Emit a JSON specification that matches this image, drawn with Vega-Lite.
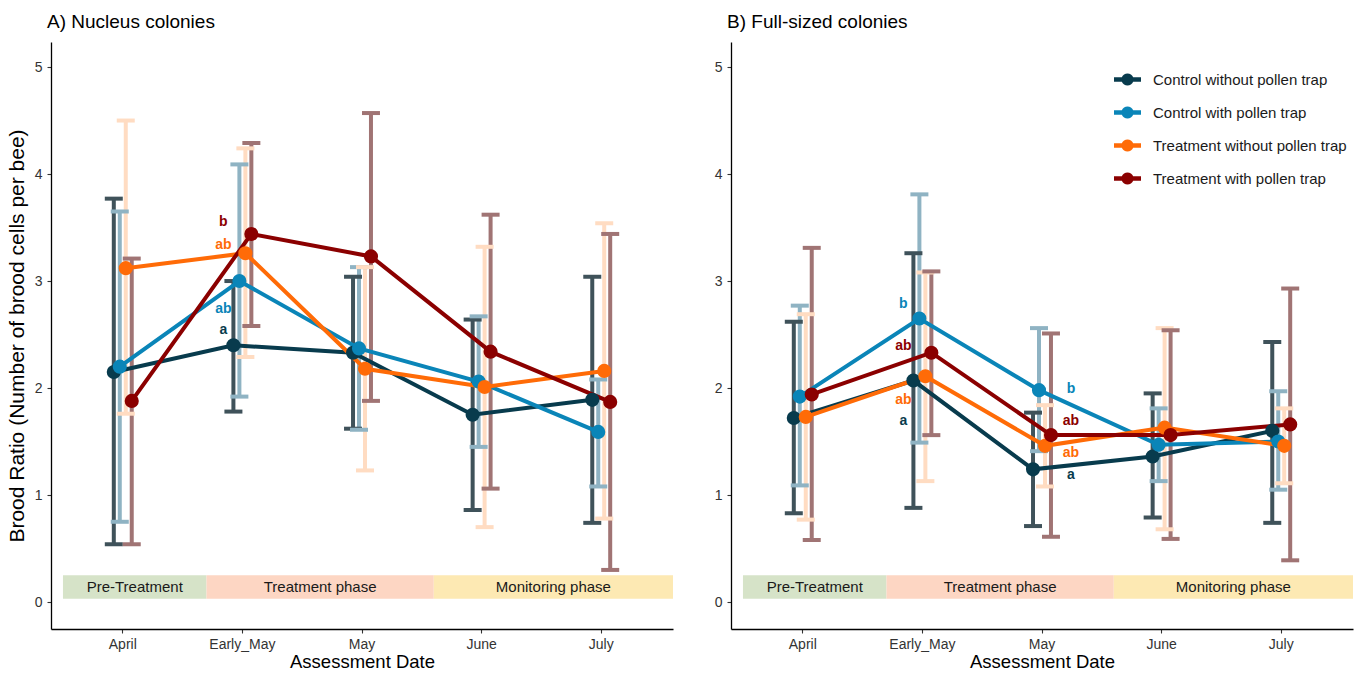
{
  "$schema": "https://vega.github.io/schema/vega-lite/v6.json",
  "background": "white",
  "padding": {"left": 6, "top": 13, "right": 4, "bottom": 0},
  "spacing": 41,
  "config": {
    "view": {"stroke": null},
    "font": "Liberation Sans",
    "axis": {"grid": false, "domainColor": "black", "domainWidth": 1.3, "tickColor": "#333333", "tickSize": 4, "tickWidth": 1.1, "labelFont": "Liberation Sans", "labelFontSize": 14, "labelColor": "#333333", "titleFont": "Liberation Sans", "titleFontSize": 18.5, "titleFontWeight": "normal", "titleColor": "black", "labelPadding": 5},
    "axisX": {"titlePadding": 1, "labelPadding": 4},
    "axisY": {"titlePadding": 7, "titleFontSize": 21},
    "title": {"font": "Liberation Sans", "fontSize": 19, "fontWeight": "normal", "color": "black", "anchor": "start", "frame": "group"}
  },
  "datasets": {
    "obs": [
      {"panel": "A", "date": "April", "group": "Control without pollen trap", "ratio": 2.15, "lower": 0.54, "upper": 3.77},
      {"panel": "A", "date": "April", "group": "Control with pollen trap", "ratio": 2.20, "lower": 0.75, "upper": 3.65},
      {"panel": "A", "date": "April", "group": "Treatment without pollen trap", "ratio": 3.12, "lower": 1.76, "upper": 4.50},
      {"panel": "A", "date": "April", "group": "Treatment with pollen trap", "ratio": 1.88, "lower": 0.54, "upper": 3.21},
      {"panel": "A", "date": "Early_May", "group": "Control without pollen trap", "ratio": 2.40, "lower": 1.78, "upper": 3.00},
      {"panel": "A", "date": "Early_May", "group": "Control with pollen trap", "ratio": 3.00, "lower": 1.92, "upper": 4.09},
      {"panel": "A", "date": "Early_May", "group": "Treatment without pollen trap", "ratio": 3.26, "lower": 2.29, "upper": 4.24},
      {"panel": "A", "date": "Early_May", "group": "Treatment with pollen trap", "ratio": 3.44, "lower": 2.58, "upper": 4.29},
      {"panel": "A", "date": "May", "group": "Control without pollen trap", "ratio": 2.33, "lower": 1.62, "upper": 3.04},
      {"panel": "A", "date": "May", "group": "Control with pollen trap", "ratio": 2.37, "lower": 1.61, "upper": 3.13},
      {"panel": "A", "date": "May", "group": "Treatment without pollen trap", "ratio": 2.18, "lower": 1.23, "upper": 3.13},
      {"panel": "A", "date": "May", "group": "Treatment with pollen trap", "ratio": 3.23, "lower": 1.88, "upper": 4.57},
      {"panel": "A", "date": "June", "group": "Control without pollen trap", "ratio": 1.75, "lower": 0.86, "upper": 2.64},
      {"panel": "A", "date": "June", "group": "Control with pollen trap", "ratio": 2.06, "lower": 1.45, "upper": 2.67},
      {"panel": "A", "date": "June", "group": "Treatment without pollen trap", "ratio": 2.01, "lower": 0.70, "upper": 3.32},
      {"panel": "A", "date": "June", "group": "Treatment with pollen trap", "ratio": 2.34, "lower": 1.06, "upper": 3.62},
      {"panel": "A", "date": "July", "group": "Control without pollen trap", "ratio": 1.89, "lower": 0.74, "upper": 3.04},
      {"panel": "A", "date": "July", "group": "Control with pollen trap", "ratio": 1.59, "lower": 1.08, "upper": 2.08},
      {"panel": "A", "date": "July", "group": "Treatment without pollen trap", "ratio": 2.16, "lower": 0.78, "upper": 3.54},
      {"panel": "A", "date": "July", "group": "Treatment with pollen trap", "ratio": 1.87, "lower": 0.30, "upper": 3.44},
      {"panel": "B", "date": "April", "group": "Control without pollen trap", "ratio": 1.72, "lower": 0.83, "upper": 2.62},
      {"panel": "B", "date": "April", "group": "Control with pollen trap", "ratio": 1.92, "lower": 1.09, "upper": 2.77},
      {"panel": "B", "date": "April", "group": "Treatment without pollen trap", "ratio": 1.73, "lower": 0.77, "upper": 2.69},
      {"panel": "B", "date": "April", "group": "Treatment with pollen trap", "ratio": 1.94, "lower": 0.58, "upper": 3.31},
      {"panel": "B", "date": "Early_May", "group": "Control without pollen trap", "ratio": 2.07, "lower": 0.88, "upper": 3.26},
      {"panel": "B", "date": "Early_May", "group": "Control with pollen trap", "ratio": 2.65, "lower": 1.49, "upper": 3.81},
      {"panel": "B", "date": "Early_May", "group": "Treatment without pollen trap", "ratio": 2.11, "lower": 1.13, "upper": 3.08},
      {"panel": "B", "date": "Early_May", "group": "Treatment with pollen trap", "ratio": 2.33, "lower": 1.56, "upper": 3.09},
      {"panel": "B", "date": "May", "group": "Control without pollen trap", "ratio": 1.24, "lower": 0.71, "upper": 1.77},
      {"panel": "B", "date": "May", "group": "Control with pollen trap", "ratio": 1.98, "lower": 1.41, "upper": 2.56},
      {"panel": "B", "date": "May", "group": "Treatment without pollen trap", "ratio": 1.46, "lower": 1.08, "upper": 1.84},
      {"panel": "B", "date": "May", "group": "Treatment with pollen trap", "ratio": 1.56, "lower": 0.61, "upper": 2.51},
      {"panel": "B", "date": "June", "group": "Control without pollen trap", "ratio": 1.36, "lower": 0.79, "upper": 1.95},
      {"panel": "B", "date": "June", "group": "Control with pollen trap", "ratio": 1.47, "lower": 1.13, "upper": 1.81},
      {"panel": "B", "date": "June", "group": "Treatment without pollen trap", "ratio": 1.63, "lower": 0.68, "upper": 2.56},
      {"panel": "B", "date": "June", "group": "Treatment with pollen trap", "ratio": 1.56, "lower": 0.59, "upper": 2.54},
      {"panel": "B", "date": "July", "group": "Control without pollen trap", "ratio": 1.60, "lower": 0.74, "upper": 2.43},
      {"panel": "B", "date": "July", "group": "Control with pollen trap", "ratio": 1.50, "lower": 1.05, "upper": 1.97},
      {"panel": "B", "date": "July", "group": "Treatment without pollen trap", "ratio": 1.46, "lower": 1.11, "upper": 1.81},
      {"panel": "B", "date": "July", "group": "Treatment with pollen trap", "ratio": 1.66, "lower": 0.39, "upper": 2.93}
    ],
    "phases": [
      {"phase": "Pre-Treatment", "start": 0.5, "end": 1.7},
      {"phase": "Treatment phase", "start": 1.7, "end": 3.6},
      {"phase": "Monitoring phase", "start": 3.6, "end": 5.6}
    ],
    "letters": [
      {"panel": "A", "date": "Early_May", "group": "Treatment with pollen trap", "letter": "b", "ypos": 3.55},
      {"panel": "A", "date": "Early_May", "group": "Treatment without pollen trap", "letter": "ab", "ypos": 3.34},
      {"panel": "A", "date": "Early_May", "group": "Control with pollen trap", "letter": "ab", "ypos": 2.74},
      {"panel": "A", "date": "Early_May", "group": "Control without pollen trap", "letter": "a", "ypos": 2.54},
      {"panel": "B", "date": "Early_May", "group": "Control with pollen trap", "letter": "b", "ypos": 2.79},
      {"panel": "B", "date": "Early_May", "group": "Treatment with pollen trap", "letter": "ab", "ypos": 2.39},
      {"panel": "B", "date": "Early_May", "group": "Treatment without pollen trap", "letter": "ab", "ypos": 1.89},
      {"panel": "B", "date": "Early_May", "group": "Control without pollen trap", "letter": "a", "ypos": 1.69},
      {"panel": "B", "date": "May", "group": "Control with pollen trap", "letter": "b", "ypos": 1.99},
      {"panel": "B", "date": "May", "group": "Treatment with pollen trap", "letter": "ab", "ypos": 1.69},
      {"panel": "B", "date": "May", "group": "Treatment without pollen trap", "letter": "ab", "ypos": 1.39},
      {"panel": "B", "date": "May", "group": "Control without pollen trap", "letter": "a", "ypos": 1.19}
    ]
  },
  "hconcat": [
    {
      "title": {"text": "A) Nucleus colonies", "dx": -4, "offset": 10},
      "width": 622,
      "height": 587,
      "resolve": {"scale": {"x": "independent", "color": "independent"}},
      "layer": [
        {
          "data": {"name": "phases"},
          "layer": [
            {
              "mark": {"type": "rect"},
              "encoding": {
                "x": {"field": "start", "type": "quantitative", "scale": {"domain": [0.4, 5.6], "nice": false, "zero": false}, "axis": null},
                "x2": {"field": "end"},
                "y": {"datum": 0.03, "type": "quantitative", "scale": {"domain": [-0.252, 5.234], "nice": false, "zero": false}, "axis": {"values": [0, 1, 2, 3, 4, 5], "format": "d", "title": "Brood Ratio (Number of brood cells per bee)"}},
                "y2": {"datum": 0.25},
                "color": {"field": "phase", "type": "nominal", "scale": {"domain": ["Pre-Treatment", "Treatment phase", "Monitoring phase"], "range": ["#d6e3c8", "#fdd6c3", "#fde9b3"]}, "legend": null}
              }
            },
            {
              "transform": [{"calculate": "(datum.start + datum.end) / 2", "as": "mid"}],
              "mark": {"type": "text", "fontSize": 15, "color": "#1a1a1a", "baseline": "middle", "align": "center"},
              "encoding": {
                "x": {"field": "mid", "type": "quantitative"},
                "y": {"datum": 0.14, "type": "quantitative"},
                "text": {"field": "phase"}
              }
            }
          ]
        },
        {
          "data": {"name": "obs"},
          "transform": [{"filter": "datum.panel == 'A'"}],
          "layer": [
            {
              "mark": {"type": "rule", "strokeWidth": 4},
              "encoding": {
                "x": {"field": "date", "type": "nominal", "scale": {"domain": ["April", "Early_May", "May", "June", "July"], "paddingInner": 0.8, "paddingOuter": 0.5}, "axis": null},
                "xOffset": {"field": "group", "type": "nominal", "scale": {"domain": ["Control without pollen trap", "Control with pollen trap", "Treatment without pollen trap", "Treatment with pollen trap"], "paddingInner": 0, "paddingOuter": 0}},
                "y": {"field": "lower", "type": "quantitative"},
                "y2": {"field": "upper"},
                "color": {"field": "group", "type": "nominal", "scale": {"domain": ["Control without pollen trap", "Control with pollen trap", "Treatment without pollen trap", "Treatment with pollen trap"], "range": ["#3f525a", "#8fb3c3", "#ffdcc2", "#a07474"]}, "legend": null}
              }
            },
            {
              "mark": {"type": "tick", "size": 18, "thickness": 4, "opacity": 1},
              "encoding": {
                "x": {"field": "date", "type": "nominal"},
                "xOffset": {"field": "group", "type": "nominal"},
                "y": {"field": "lower", "type": "quantitative"},
                "color": {"field": "group", "type": "nominal"}
              }
            },
            {
              "mark": {"type": "tick", "size": 18, "thickness": 4, "opacity": 1},
              "encoding": {
                "x": {"field": "date", "type": "nominal"},
                "xOffset": {"field": "group", "type": "nominal"},
                "y": {"field": "upper", "type": "quantitative"},
                "color": {"field": "group", "type": "nominal"}
              }
            }
          ]
        },
        {
          "layer": [
            {
              "data": {"name": "obs"},
              "transform": [{"filter": "datum.panel == 'A'"}],
              "mark": {"type": "line", "strokeWidth": 4},
              "encoding": {
                "x": {"field": "date", "type": "nominal", "scale": {"domain": ["April", "Early_May", "May", "June", "July"], "paddingInner": 0.8, "paddingOuter": 0.5}, "axis": {"orient": "bottom", "labelAngle": 0, "title": "Assessment Date"}},
                "xOffset": {"field": "group", "type": "nominal", "scale": {"domain": ["Control without pollen trap", "Control with pollen trap", "Treatment without pollen trap", "Treatment with pollen trap"], "paddingInner": 0, "paddingOuter": 0}},
                "y": {"field": "ratio", "type": "quantitative"},
                "color": {"field": "group", "type": "nominal", "scale": {"domain": ["Control without pollen trap", "Control with pollen trap", "Treatment without pollen trap", "Treatment with pollen trap"], "range": ["#083b4d", "#0a85b8", "#ff6b07", "#8b0000"]}, "legend": null}
              }
            },
            {
              "data": {"name": "obs"},
              "transform": [{"filter": "datum.panel == 'A'"}],
              "mark": {"type": "point", "filled": true, "size": 200, "opacity": 1},
              "encoding": {
                "x": {"field": "date", "type": "nominal"},
                "xOffset": {"field": "group", "type": "nominal"},
                "y": {"field": "ratio", "type": "quantitative"},
                "color": {"field": "group", "type": "nominal"}
              }
            },
            {
              "data": {"name": "letters"},
              "transform": [{"filter": "datum.panel == 'A' && datum.date == 'Early_May'"}],
              "mark": {"type": "text", "fontSize": 14, "fontWeight": "bold", "dx": -19, "baseline": "middle"},
              "encoding": {
                "x": {"field": "date", "type": "nominal"},
                "y": {"field": "ypos", "type": "quantitative"},
                "text": {"field": "letter"},
                "color": {"field": "group", "type": "nominal"}
              }
            }
          ]
        }
      ]
    },
    {
      "title": {"text": "B) Full-sized colonies", "dx": -4, "offset": 10},
      "width": 622,
      "height": 587,
      "resolve": {"scale": {"x": "independent", "color": "independent"}},
      "layer": [
        {
          "data": {"name": "phases"},
          "layer": [
            {
              "mark": {"type": "rect"},
              "encoding": {
                "x": {"field": "start", "type": "quantitative", "scale": {"domain": [0.4, 5.6], "nice": false, "zero": false}, "axis": null},
                "x2": {"field": "end"},
                "y": {"datum": 0.03, "type": "quantitative", "scale": {"domain": [-0.252, 5.234], "nice": false, "zero": false}, "axis": {"values": [0, 1, 2, 3, 4, 5], "format": "d", "title": null}},
                "y2": {"datum": 0.25},
                "color": {"field": "phase", "type": "nominal", "scale": {"domain": ["Pre-Treatment", "Treatment phase", "Monitoring phase"], "range": ["#d6e3c8", "#fdd6c3", "#fde9b3"]}, "legend": null}
              }
            },
            {
              "transform": [{"calculate": "(datum.start + datum.end) / 2", "as": "mid"}],
              "mark": {"type": "text", "fontSize": 15, "color": "#1a1a1a", "baseline": "middle", "align": "center"},
              "encoding": {
                "x": {"field": "mid", "type": "quantitative"},
                "y": {"datum": 0.14, "type": "quantitative"},
                "text": {"field": "phase"}
              }
            }
          ]
        },
        {
          "data": {"name": "obs"},
          "transform": [{"filter": "datum.panel == 'B'"}],
          "layer": [
            {
              "mark": {"type": "rule", "strokeWidth": 4},
              "encoding": {
                "x": {"field": "date", "type": "nominal", "scale": {"domain": ["April", "Early_May", "May", "June", "July"], "paddingInner": 0.8, "paddingOuter": 0.5}, "axis": null},
                "xOffset": {"field": "group", "type": "nominal", "scale": {"domain": ["Control without pollen trap", "Control with pollen trap", "Treatment without pollen trap", "Treatment with pollen trap"], "paddingInner": 0, "paddingOuter": 0}},
                "y": {"field": "lower", "type": "quantitative"},
                "y2": {"field": "upper"},
                "color": {"field": "group", "type": "nominal", "scale": {"domain": ["Control without pollen trap", "Control with pollen trap", "Treatment without pollen trap", "Treatment with pollen trap"], "range": ["#3f525a", "#8fb3c3", "#ffdcc2", "#a07474"]}, "legend": null}
              }
            },
            {
              "mark": {"type": "tick", "size": 18, "thickness": 4, "opacity": 1},
              "encoding": {
                "x": {"field": "date", "type": "nominal"},
                "xOffset": {"field": "group", "type": "nominal"},
                "y": {"field": "lower", "type": "quantitative"},
                "color": {"field": "group", "type": "nominal"}
              }
            },
            {
              "mark": {"type": "tick", "size": 18, "thickness": 4, "opacity": 1},
              "encoding": {
                "x": {"field": "date", "type": "nominal"},
                "xOffset": {"field": "group", "type": "nominal"},
                "y": {"field": "upper", "type": "quantitative"},
                "color": {"field": "group", "type": "nominal"}
              }
            }
          ]
        },
        {
          "layer": [
            {
              "data": {"name": "obs"},
              "transform": [{"filter": "datum.panel == 'B'"}],
              "mark": {"type": "line", "strokeWidth": 4},
              "encoding": {
                "x": {"field": "date", "type": "nominal", "scale": {"domain": ["April", "Early_May", "May", "June", "July"], "paddingInner": 0.8, "paddingOuter": 0.5}, "axis": {"orient": "bottom", "labelAngle": 0, "title": "Assessment Date"}},
                "xOffset": {"field": "group", "type": "nominal", "scale": {"domain": ["Control without pollen trap", "Control with pollen trap", "Treatment without pollen trap", "Treatment with pollen trap"], "paddingInner": 0, "paddingOuter": 0}},
                "y": {"field": "ratio", "type": "quantitative"},
                "color": {"field": "group", "type": "nominal", "scale": {"domain": ["Control without pollen trap", "Control with pollen trap", "Treatment without pollen trap", "Treatment with pollen trap"], "range": ["#083b4d", "#0a85b8", "#ff6b07", "#8b0000"]}, "legend": {"title": null, "orient": "none", "legendX": 383, "legendY": 24, "padding": 0, "symbolType": "M-1,-0.16H-0.42A0.45,0.45,0,0,1,0.42,-0.16H1V0.16H0.42A0.45,0.45,0,0,1,-0.42,0.16H-1Z", "symbolSize": 729, "symbolStrokeWidth": 0, "rowPadding": 11, "labelOffset": 12, "labelFontSize": 15, "labelColor": "#1a1a1a", "labelFont": "Liberation Sans", "labelLimit": 400}}
              }
            },
            {
              "data": {"name": "obs"},
              "transform": [{"filter": "datum.panel == 'B'"}],
              "mark": {"type": "point", "filled": true, "size": 200, "opacity": 1},
              "encoding": {
                "x": {"field": "date", "type": "nominal"},
                "xOffset": {"field": "group", "type": "nominal"},
                "y": {"field": "ratio", "type": "quantitative"},
                "color": {"field": "group", "type": "nominal"}
              }
            },
            {
              "data": {"name": "letters"},
              "transform": [{"filter": "datum.panel == 'B' && datum.date == 'Early_May'"}],
              "mark": {"type": "text", "fontSize": 14, "fontWeight": "bold", "dx": -19, "baseline": "middle"},
              "encoding": {
                "x": {"field": "date", "type": "nominal"},
                "y": {"field": "ypos", "type": "quantitative"},
                "text": {"field": "letter"},
                "color": {"field": "group", "type": "nominal"}
              }
            },
            {
              "data": {"name": "letters"},
              "transform": [{"filter": "datum.panel == 'B' && datum.date == 'May'"}],
              "mark": {"type": "text", "fontSize": 14, "fontWeight": "bold", "dx": 29, "baseline": "middle"},
              "encoding": {
                "x": {"field": "date", "type": "nominal"},
                "y": {"field": "ypos", "type": "quantitative"},
                "text": {"field": "letter"},
                "color": {"field": "group", "type": "nominal"}
              }
            }
          ]
        }
      ]
    }
  ]
}
